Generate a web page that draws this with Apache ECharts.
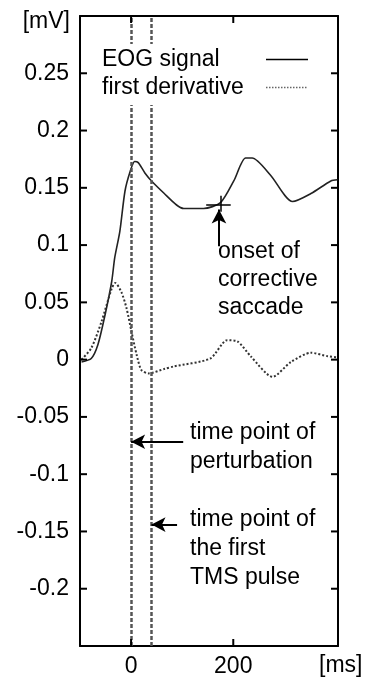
<!DOCTYPE html>
<html>
<head>
<meta charset="utf-8">
<script src="https://cdn.jsdelivr.net/npm/echarts@6/dist/echarts.min.js"></script>
<style>html,body{margin:0;padding:0;background:#fff;}#c{width:368px;height:682px;}</style>
</head>
<body>
<div id="c"></div>
<script>
// Data
const eogTime = [-97, -78, -65, -51, -38, -32, -22, -12, -2, 7, 14, 27, 40, 65, 89, 103, 142, 175, 201, 224, 237, 273, 316, 352, 391, 404];
const eogValue = [-0.002, 0.001, 0.013, 0.039, 0.068, 0.089, 0.112, 0.147, 0.164, 0.173, 0.172, 0.163, 0.156, 0.145, 0.135, 0.132, 0.132, 0.137, 0.156, 0.176, 0.176, 0.161, 0.138, 0.145, 0.156, 0.157];
const derivTime = [-97, -78, -58, -38, -31, -19, -9, 1, 11, 20, 34, 66, 83, 155, 188, 208, 234, 277, 313, 352, 385, 404];
const derivValue = [0, 0.01, 0.033, 0.062, 0.067, 0.059, 0.045, 0.024, 0.004, -0.009, -0.012, -0.008, -0.006, 0.001, 0.017, 0.016, 0.003, -0.015, -0.002, 0.006, 0.003, 0.002];
const eventTimes = [0, 40];              // perturbation, first TMS pulse
const onsetPoint = [175, 0.137];         // onset of corrective saccade
const xTickLabels = [0, 200];
const yTickLabels = [-0.2, -0.15, -0.1, -0.05, 0, 0.05, 0.1, 0.15, 0.2, 0.25];
const seriesNames = ['EOG signal', 'first derivative'];

const X_MIN = -100, X_MAX = 405, Y_MIN = -0.25, Y_MAX = 0.3;
const FONT = 'Liberation Sans, Arial, sans-serif';
const FS = 23;
const TICK = 7;
const chart = echarts.init(document.getElementById('c'));

const zip = (a, b) => a.map((t, i) => [t, b[i]]);
const fmtY = v => String(Math.round(v * 100) / 100);

const mkLine = () => ({show: true, onZero: false, lineStyle: {color: '#000', width: 2}});

// tick marks built from the tick label arrays: [x, y, side] side 0=left 1=right 2=bottom 3=top
const tickData = [];
yTickLabels.forEach(v => { tickData.push([X_MIN, v, 0]); tickData.push([X_MAX, v, 1]); });
xTickLabels.forEach(t => { tickData.push([t, Y_MIN, 2]); tickData.push([t, Y_MAX, 3]); });

const option = {
  animation: false,
  grid: {left: 80, top: 16, width: 258, height: 630},
  xAxis: [
    {type: 'value', min: X_MIN, max: X_MAX, axisLine: mkLine(),
     splitLine: {show: false}, axisTick: {show: false},
     axisLabel: {customValues: xTickLabels, color: '#000', fontFamily: FONT, fontSize: FS, margin: 9}},
    {type: 'value', min: X_MIN, max: X_MAX, position: 'top', axisLine: mkLine(),
     splitLine: {show: false}, axisTick: {show: false}, axisLabel: {show: false}}
  ],
  yAxis: [
    {type: 'value', min: Y_MIN, max: Y_MAX, interval: 0.05, axisLine: mkLine(),
     splitLine: {show: false}, axisTick: {show: false},
     axisLabel: {customValues: yTickLabels, formatter: fmtY, color: '#000', fontFamily: FONT, fontSize: FS, margin: 11}},
    {type: 'value', min: Y_MIN, max: Y_MAX, interval: 0.05, position: 'right', axisLine: mkLine(),
     splitLine: {show: false}, axisTick: {show: false}, axisLabel: {show: false}}
  ],
  series: [
    {
      name: seriesNames[0], type: 'line', data: zip(eogTime, eogValue),
      showSymbol: false, smooth: 0.25,
      lineStyle: {color: '#222', width: 1.6},
      markLine: {
        silent: true, symbol: ['none', 'none'], label: {show: false},
        lineStyle: {color: '#000', width: 1.5, type: 'solid'},
        data: [
          [{coord: [onsetPoint[0] - 28, onsetPoint[1] - 0.002]}, {coord: [onsetPoint[0] + 20, onsetPoint[1] - 0.002]}],
          [{coord: [onsetPoint[0], onsetPoint[1] - 0.008]}, {coord: [onsetPoint[0], onsetPoint[1] + 0.006]}]
        ]
      }
    },
    {
      name: seriesNames[1], type: 'line', data: zip(derivTime, derivValue),
      showSymbol: false, smooth: 0.25,
      lineStyle: {color: '#333', width: 2, type: [2, 2]}
    },
    {
      name: 'events', type: 'line', data: [],
      markLine: {
        silent: true, symbol: ['none', 'none'], label: {show: false},
        lineStyle: {color: '#555', width: 2.5, type: [4, 2]},
        data: eventTimes.map(t => ({xAxis: t}))
      }
    },
    {
      name: 'arrows', type: 'line', data: [],
      markLine: {
        silent: true, symbol: ['none', 'arrow'], symbolSize: [11, 14],
        label: {show: false},
        lineStyle: {color: '#000', width: 2, type: 'solid'},
        itemStyle: {color: '#000'},
        data: [
          [{coord: [102, -0.0717]}, {coord: [eventTimes[0], -0.0717]}],
          [{coord: [90, -0.144]}, {coord: [eventTimes[1], -0.144]}],
          [{coord: [onsetPoint[0] - 3, 0.099]}, {coord: [onsetPoint[0] - 3, 0.131]}]
        ]
      }
    },
    {
      name: 'ticks', type: 'custom', data: tickData, z: 10, silent: true, clip: false,
      renderItem: function (params, api) {
        const p = api.coord([api.value(0), api.value(1)]);
        const side = api.value(2);
        let x2 = p[0], y2 = p[1];
        if (side === 0) x2 += TICK;
        else if (side === 1) x2 -= TICK;
        else if (side === 2) y2 -= TICK;
        else y2 += TICK;
        return {type: 'line', shape: {x1: p[0], y1: p[1], x2: x2, y2: y2},
                style: {stroke: '#000', lineWidth: 2}};
      }
    }
  ],
  graphic: [
    {type: 'rect', left: 92, top: 44, shape: {width: 228, height: 61}, style: {fill: '#fff'}, z: 50},
    {type: 'text', left: 102, top: 48, z: 51, style: {text: seriesNames[0], font: FS + 'px ' + FONT, fill: '#000'}},
    {type: 'text', left: 102, top: 76, z: 51, style: {text: seriesNames[1], font: FS + 'px ' + FONT, fill: '#000'}},
    {type: 'line', z: 51, shape: {x1: 266, y1: 59.5, x2: 308, y2: 59.5}, style: {stroke: '#000', lineWidth: 1.6}},
    {type: 'line', z: 51, shape: {x1: 266, y1: 87.5, x2: 308, y2: 87.5}, style: {stroke: '#666', lineWidth: 1.4, lineDash: [1.5, 1.5]}},
    {type: 'text', right: 298, top: 10, z: 51, style: {text: '[mV]', font: FS + 'px ' + FONT, fill: '#000'}},
    {type: 'text', left: 319, top: 654, z: 51, style: {text: '[ms]', font: FS + 'px ' + FONT, fill: '#000'}},
    {type: 'text', left: 218, top: 238, z: 51, style: {text: 'onset of\ncorrective\nsaccade', font: FS + 'px ' + FONT, lineHeight: 28, fill: '#000'}},
    {type: 'text', left: 190, top: 418, z: 51, style: {text: 'time point of\nperturbation', font: FS + 'px ' + FONT, lineHeight: 29, fill: '#000'}},
    {type: 'text', left: 190, top: 505, z: 51, style: {text: 'time point of\nthe first\nTMS pulse', font: FS + 'px ' + FONT, lineHeight: 29, fill: '#000'}}
  ]
};
chart.setOption(option);
</script>
</body>
</html>
